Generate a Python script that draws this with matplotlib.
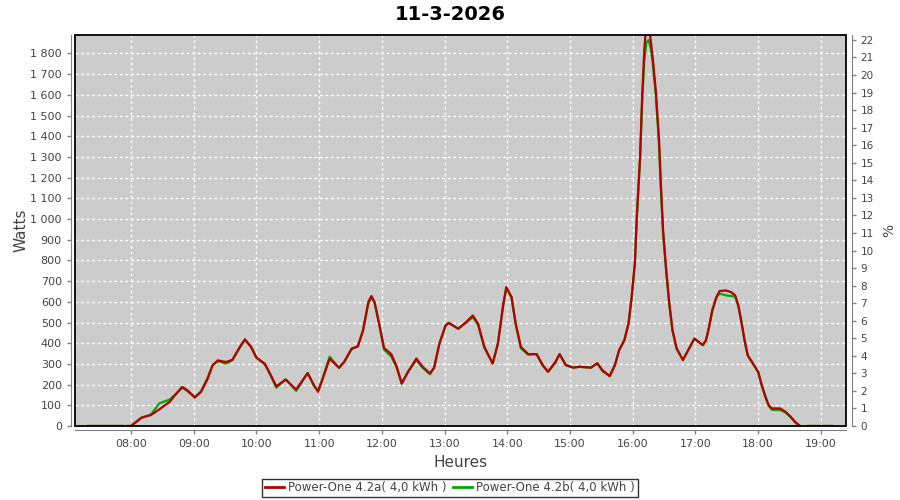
import numpy as np
import matplotlib
matplotlib.use('Agg')
from matplotlib import pyplot as plt
from matplotlib.patches import Rectangle
from matplotlib.ticker import FuncFormatter, MultipleLocator

title = '11-3-2026'
label_a = 'Power-One 4.2a( 4,0 kWh )'
label_b = 'Power-One 4.2b( 4,0 kWh )'

# None = short gap in the logged data
times = ['07:19', '07:52', None, '07:57', '08:00', '08:10', '08:19', '08:27', '08:37',
         '08:43', '08:49', '08:54', '09:01', '09:07', '09:13', '09:18', '09:23', '09:31',
         '09:37', '09:44', '09:49', '09:55', '10:00', '10:08', '10:13', '10:19', '10:28',
         '10:38', '10:49', '10:55', '10:59', '11:04', '11:10', '11:19', '11:24', '11:31',
         '11:37', '11:42', '11:47', '11:50', '11:53', '11:58', '12:02', '12:09', '12:14',
         '12:19', '12:25', '12:33', '12:39', '12:46', '12:50', '12:55', '13:01', '13:04',
         '13:13', '13:19', '13:27', '13:32', '13:38', '13:46', '13:51', '13:56', '13:59',
         '14:04', '14:08', '14:13', '14:20', '14:28', '14:34', '14:39', '14:46', '14:50',
         '14:56', '15:03', '15:09', '15:20', '15:26', '15:31', '15:38', '15:43', '15:47',
         '15:52', '15:56', '15:59', '16:02', '16:04', '16:07', '16:09', '16:11', '16:13',
         '16:15', '16:17', '16:19', '16:22', '16:25', '16:27', '16:29', '16:32', '16:35',
         '16:38', '16:42', '16:48', '16:53', '16:59', '17:07', '17:10', '17:13', '17:16',
         '17:20', '17:23', '17:29', '17:34', '17:38', '17:41', '17:44', '17:47', '17:50',
         '17:55', '18:00', '18:03', '18:07', '18:10', '18:13', '18:21', '18:26', '18:31',
         '18:35', '18:40', None, '18:48', '19:11']

power_a = [0, 0, None, 0, 0, 40, 53, 80, 117,
           154, 189, 173, 138, 165, 224, 293, 317, 309,
           320, 381, 418, 381, 330, 301, 253, 192, 224,
           176, 256, 197, 165, 237, 325, 281, 310, 374,
           385, 462, 599, 628, 599, 478, 377, 347, 289,
           205, 262, 326, 286, 254, 282, 398, 486, 498,
           470, 494, 534, 494, 382, 302, 398, 583, 671,
           623, 494, 382, 347, 347, 294, 262, 310, 347,
           294, 282, 286, 282, 303, 270, 241, 295, 367,
           415, 496, 625, 786, 1027, 1301, 1591, 1816, 1940,
           1950, 1870, 1784, 1623, 1397, 1156, 947, 753, 592,
           464, 375, 319, 367, 423, 391, 414, 478, 558,
           623, 652, 655, 647, 631, 583, 502, 414, 342,
           302, 262, 205, 141, 101, 85, 85, 69, 45,
           21, 0, None, 0, 0]

power_b = [0, 0, None, 0, 0, 40, 55, 109, 128,
           156, 185, 168, 138, 168, 230, 293, 314, 301,
           318, 378, 418, 381, 330, 298, 250, 185, 226,
           170, 255, 195, 170, 240, 335, 281, 310, 370,
           385, 462, 590, 620, 595, 478, 370, 335, 285,
           205, 262, 318, 282, 250, 282, 398, 486, 498,
           470, 494, 525, 490, 378, 302, 398, 583, 665,
           623, 494, 375, 345, 347, 290, 262, 305, 347,
           294, 282, 286, 282, 303, 265, 241, 295, 367,
           415, 496, 625, 786, 1010, 1290, 1570, 1760, 1850,
           1865, 1830, 1760, 1600, 1370, 1130, 930, 745, 585,
           460, 372, 318, 365, 420, 390, 412, 478, 555,
           620, 640, 631, 628, 625, 580, 500, 410, 340,
           300, 260, 200, 138, 98, 78, 77, 66, 43,
           20, 0, None, 0, 0]


def to_hours(t):
    if t is None:
        return np.nan
    h, m = t.split(':')
    return int(h) + int(m) / 60.0


x = np.array([to_hours(t) for t in times])
ya = np.array([np.nan if v is None else v for v in power_a], dtype=float)
yb = np.array([np.nan if v is None else v for v in power_b], dtype=float)

grey = '#808080'
txt = '#444444'
red = '#B40000'
green = '#00AA00'

fig = plt.figure(figsize=(9, 5), dpi=100)
ax = fig.add_axes([75 / 900, 1 - 426 / 500, 771 / 900, 391 / 500])
ax.set_facecolor('#CCCCCC')

ax.plot(x, yb, color=green, lw=1.6, zorder=3)
ax.plot(x, ya, color=red, lw=1.6, zorder=4)

ax.set_xlim(7.107, 19.40)
ax.set_ylim(0, 1889)
ax.xaxis.set_major_locator(MultipleLocator(1))
ax.yaxis.set_major_locator(MultipleLocator(100))
ax.xaxis.set_major_formatter(FuncFormatter(lambda v, p: '%02d:00' % int(round(v))))
ax.yaxis.set_major_formatter(FuncFormatter(
    lambda v, p: '{:,}'.format(int(round(v))).replace(',', ' ')))
ax.grid(True, color='white', linestyle=(0, (2, 2)), lw=1)
ax.set_axisbelow(True)

for s in ['top', 'right']:
    ax.spines[s].set_visible(False)
for s in ['left', 'bottom']:
    ax.spines[s].set_position(('outward', 3))
    ax.spines[s].set_color(grey)
ax.tick_params(colors=grey, labelcolor=txt, labelsize=8, length=3, width=1)

ax.add_patch(Rectangle((0, 0), 1, 1, transform=ax.transAxes, fill=False,
                       edgecolor='black', lw=1.3, clip_on=False, zorder=6))

ax2 = ax.twinx()
ax2.set_ylim(0, 22.28)
ax2.yaxis.set_major_locator(MultipleLocator(1))
for s in ['top', 'left', 'bottom']:
    ax2.spines[s].set_visible(False)
ax2.spines['right'].set_position(('outward', 4))
ax2.spines['right'].set_color(grey)
ax2.tick_params(colors=grey, labelcolor=txt, labelsize=7.5, length=3, width=1)

ax.set_xlabel('Heures', fontsize=11, color=txt, labelpad=4)
ax.set_ylabel('Watts', fontsize=11, color=txt, labelpad=1)
ax2.set_ylabel('%', fontsize=10, color=txt, labelpad=6)

fig.text(0.5, 1 - 15 / 500, title, ha='center', va='center',
         fontsize=14, fontweight='bold')

handles = [plt.Line2D([], [], color=red, lw=2), plt.Line2D([], [], color=green, lw=2)]
leg = fig.legend(handles, [label_a, label_b], loc='center', bbox_to_anchor=(0.5, 1 - 488 / 500),
                 ncol=2, fontsize=8.5, frameon=True, fancybox=False, handlelength=1.6,
                 handletextpad=0.3, columnspacing=0.6, borderpad=0.25, labelcolor=txt)
leg.get_frame().set_edgecolor('black')
leg.get_frame().set_linewidth(1)

fig.savefig('out.png', dpi=100)
